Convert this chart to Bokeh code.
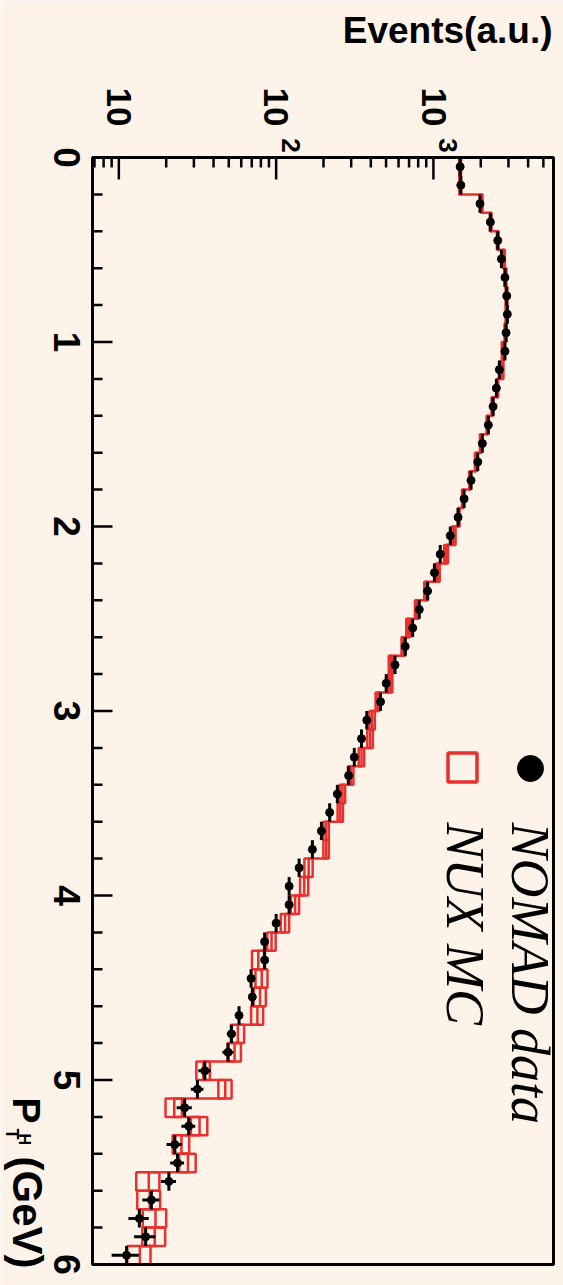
from math import pi, log10
from bokeh.plotting import figure
from bokeh.models import Range1d, ColumnDataSource
from bokeh.core.properties import value
from bokeh.embed import file_html
from bokeh.resources import INLINE

# ---------------- data ----------------
pt_center = [0.05, 0.15, 0.25, 0.35, 0.45, 0.55, 0.65, 0.75, 0.85, 0.95,
             1.05, 1.15, 1.25, 1.35, 1.45, 1.55, 1.65, 1.75, 1.85, 1.95,
             2.05, 2.15, 2.25, 2.35, 2.45, 2.55, 2.65, 2.75, 2.85, 2.95,
             3.05, 3.15, 3.25, 3.35, 3.45, 3.55, 3.65, 3.75, 3.85, 3.95,
             4.05, 4.15, 4.25, 4.35, 4.45, 4.55, 4.65, 4.75, 4.85, 4.95,
             5.05, 5.15, 5.25, 5.35, 5.45, 5.55, 5.65, 5.75, 5.85, 5.95]
bin_half = 0.05

nomad_data = [1479, 1493, 1977, 2302, 2564, 2705, 2850, 2923, 2950, 2897,
              2850, 2626, 2513, 2394, 2234, 2047, 1914, 1734, 1567, 1435,
              1280, 1105, 1015, 918, 813, 738, 662, 570, 501, 461,
              377, 349, 314, 289, 245, 219, 194, 170, 140, 121,
              121, 100, 84.5, 84.5, 69.3, 70.6, 58.1, 52.0, 49.5, 35.2,
              31.6, 26.2, 27.8, 22.7, 23.6, 20.8, 16.1, 13.5, 14.8, 11.2]
nomad_err = [15, 15, 18, 20, 21, 22, 22, 23, 23, 22,
             22, 21, 20, 20, 19, 18, 17, 17, 16, 15,
             14, 13, 13, 12, 11, 11, 10, 10, 9, 9,
             8, 8, 7, 7, 7, 6, 6, 5.5, 5, 5,
             4.6, 4.2, 3.8, 3.8, 3.4, 3.5, 3.2, 3.4, 4.0, 3.2,
             2.9, 2.9, 2.8, 2.6, 2.4, 2.3, 2.0, 2.0, 2.3, 2.2]

nux_mc = [1479, 1479, 2027, 2313, 2564, 2811, 2877, 2910, 2910, 2866,
          2754, 2754, 2548, 2371, 2203, 2000, 1857, 1710, 1538, 1449,
          1345, 1204, 1066, 899, 785, 691, 645, 535, 533, 441,
          408, 396, 349, 298, 264, 256, 208, 208, 161, 151,
          132, 114, 93.5, 77, 81, 79, 76, 57.1, 54.4, 34.5,
          47.5, 22.5, 32.6, 25, 27.5, 15.5, 15.7, 17.1, 16.9, 13.6]
nux_err = [18, 18, 24, 28, 31, 34, 35, 35, 35, 34,
           33, 33, 31, 28, 26, 24, 22, 21, 18, 17,
           38, 34, 30, 25, 22, 19, 18, 15, 15, 12,
           16, 16, 14, 12, 10.5, 10, 8.3, 8.3, 9.7, 9,
           8, 7, 5.8, 6.8, 7.1, 7, 6.7, 5.5, 5.3, 3.4,
           4.6, 2.7, 3.9, 3.0, 3.3, 2.6, 2.6, 2.9, 2.8, 2.3]

# axis ticks and texts
x_ticks = [10, 100, 1000]
x_tick_base = ["10", "10", "10"]
x_tick_exp = ["", "2", "3"]
x_minor = [7, 8, 9, 20, 30, 40, 50, 60, 70, 80, 90,
           200, 300, 400, 500, 600, 700, 800, 900, 2000, 3000, 4000, 5000]
y_ticks = [0, 1, 2, 3, 4, 5, 6]
y_minor = [m + k * 0.2 for m in range(6) for k in (1, 2, 3, 4)]
legend_names = ["NOMAD data", "NUX MC"]
y_title = "Events(a.u.)"
x_title = ["P", "T", "H", "(GeV)"]

# ---------------- layout / style ----------------
W, H = 563, 1285
FL, FR, FT, FB = 92, 553, 157, 1264      # plotting box in pixels
XMIN, XMAX = 6.8, 5800.0                 # event axis (log) limits
YMIN, YMAX = 0.0, 6.0                    # P_T axis limits
BG = "#fdf3e9"
RED = "#e8302e"
SANS = "Liberation Sans"
SERIF = "Liberation Serif"
ROT = -pi / 2                            # texts read top to bottom
BASE_SHIFT = 0.36                        # baseline correction (fraction of font size)


def px_x(px):
    return 10 ** (log10(XMIN) + (px - FL) / (FR - FL) * (log10(XMAX) - log10(XMIN)))


def px_y(py):
    return YMIN + (py - FT) / (FB - FT) * (YMAX - YMIN)


def x_to_px(v):
    return FL + (log10(v) - log10(XMIN)) / (log10(XMAX) - log10(XMIN)) * (FR - FL)


def y_to_px(v):
    return FT + (v - YMIN) / (YMAX - YMIN) * (FB - FT)


p = figure(width=W, height=H, x_axis_type="log",
           x_axis_location=None, y_axis_location=None,
           x_range=Range1d(px_x(0), px_x(W)), y_range=Range1d(px_y(H), px_y(0)),
           output_backend="svg", toolbar_location=None,
           min_border_left=0, min_border_right=0, min_border_top=0, min_border_bottom=0)
p.grid.visible = False
p.background_fill_color = BG
p.border_fill_color = BG
p.outline_line_color = None


def rot_text(base_px, pos_py, texts, size, align="left", font=SANS, style="bold"):
    """Text reading top to bottom; base_px = screen x of the baseline."""
    p.text(x=[px_x(b + BASE_SHIFT * size) for b in base_px], y=[px_y(q) for q in pos_py],
           text=texts, angle=ROT, text_font=value(font), text_font_style=style,
           text_font_size=f"{size}px", text_align=align, text_baseline="alphabetic",
           text_color="black")


# ---------------- MC histogram with error boxes ----------------
pt_lo = [c - bin_half for c in pt_center]
pt_hi = [c + bin_half for c in pt_center]
mc_src = ColumnDataSource(dict(
    left=[v - e for v, e in zip(nux_mc, nux_err)],
    right=[v + e for v, e in zip(nux_mc, nux_err)],
    top=pt_lo, bottom=pt_hi))
p.quad(left="left", right="right", top="top", bottom="bottom", source=mc_src,
       fill_color=None, line_color=RED, line_width=2.5)

step_x = [XMIN]
step_y = [pt_lo[0]]
for v, a, b in zip(nux_mc, pt_lo, pt_hi):
    step_x += [v, v]
    step_y += [a, b]
step_x.append(XMIN)
step_y.append(pt_hi[-1])
p.line(step_x, step_y, line_color=RED, line_width=2.5)

# ---------------- NOMAD data ----------------
d_src = ColumnDataSource(dict(
    pt=pt_center, v=nomad_data,
    lo=[v - e for v, e in zip(nomad_data, nomad_err)],
    hi=[v + e for v, e in zip(nomad_data, nomad_err)],
    ptlo=pt_lo, pthi=pt_hi))
p.segment(x0="lo", y0="pt", x1="hi", y1="pt", source=d_src, line_color="black", line_width=3)
p.segment(x0="v", y0="ptlo", x1="v", y1="pthi", source=d_src, line_color="black", line_width=3)
p.scatter(x="v", y="pt", source=d_src, size=8, color="black")

# ---------------- frame and axes ----------------
p.quad(left=[XMIN], right=[XMAX], top=[YMIN], bottom=[YMAX],
       fill_color=None, line_color="black", line_width=3)
# top (log) axis ticks, pointing into the box
p.segment(x0=x_ticks, y0=[YMIN] * len(x_ticks), x1=x_ticks,
          y1=[px_y(FT + 22)] * len(x_ticks), line_color="black", line_width=2.5)
p.segment(x0=x_minor, y0=[YMIN] * len(x_minor), x1=x_minor,
          y1=[px_y(FT + 10)] * len(x_minor), line_color="black", line_width=2.5)
# left (P_T) axis ticks
p.segment(x0=[XMIN] * len(y_ticks), y0=y_ticks, x1=[px_x(FL + 20)] * len(y_ticks),
          y1=y_ticks, line_color="black", line_width=2.5)
p.segment(x0=[XMIN] * len(y_minor), y0=y_minor, x1=[px_x(FL + 10)] * len(y_minor),
          y1=y_minor, line_color="black", line_width=2.5)

# tick labels of the log axis: "10" with a superscript exponent
rot_text([x_to_px(t) - 12.5 for t in x_ticks], [106.5] * len(x_ticks), x_tick_base, 35,
         align="center")
exp_pairs = [(t, e) for t, e in zip(x_ticks, x_tick_exp) if e]
rot_text([x_to_px(t) + 5.5 for t, _ in exp_pairs], [145] * len(exp_pairs),
         [e for _, e in exp_pairs], 26, align="center")

# tick labels of the P_T axis
rot_text([53] * len(y_ticks), [y_to_px(t) for t in y_ticks], [str(t) for t in y_ticks], 37,
         align="center")

# axis titles
p.text(x=[px_x(552)], y=[px_y(43 - BASE_SHIFT * 37)], text=[y_title], text_font=value(SANS),
       text_font_style="bold", text_font_size="37px", text_align="right",
       text_baseline="alphabetic", text_color="black")
rot_text([12], [1097], [x_title[0]], 39)
rot_text([5], [1128], [x_title[1]], 18)
rot_text([18], [1133], [x_title[2]], 16)
rot_text([12], [1156], [x_title[3]], 42)

# ---------------- legend ----------------
p.scatter([px_x(530)], [px_y(768)], size=26, color="black")
p.scatter([px_x(462)], [px_y(767)], marker="square", size=29, fill_color=None,
          line_color=RED, line_width=3.5)
rot_text([510, 445], [822, 822], legend_names, 54, font=SERIF, style="italic")

open("out.html", "w").write(file_html(p, INLINE))
